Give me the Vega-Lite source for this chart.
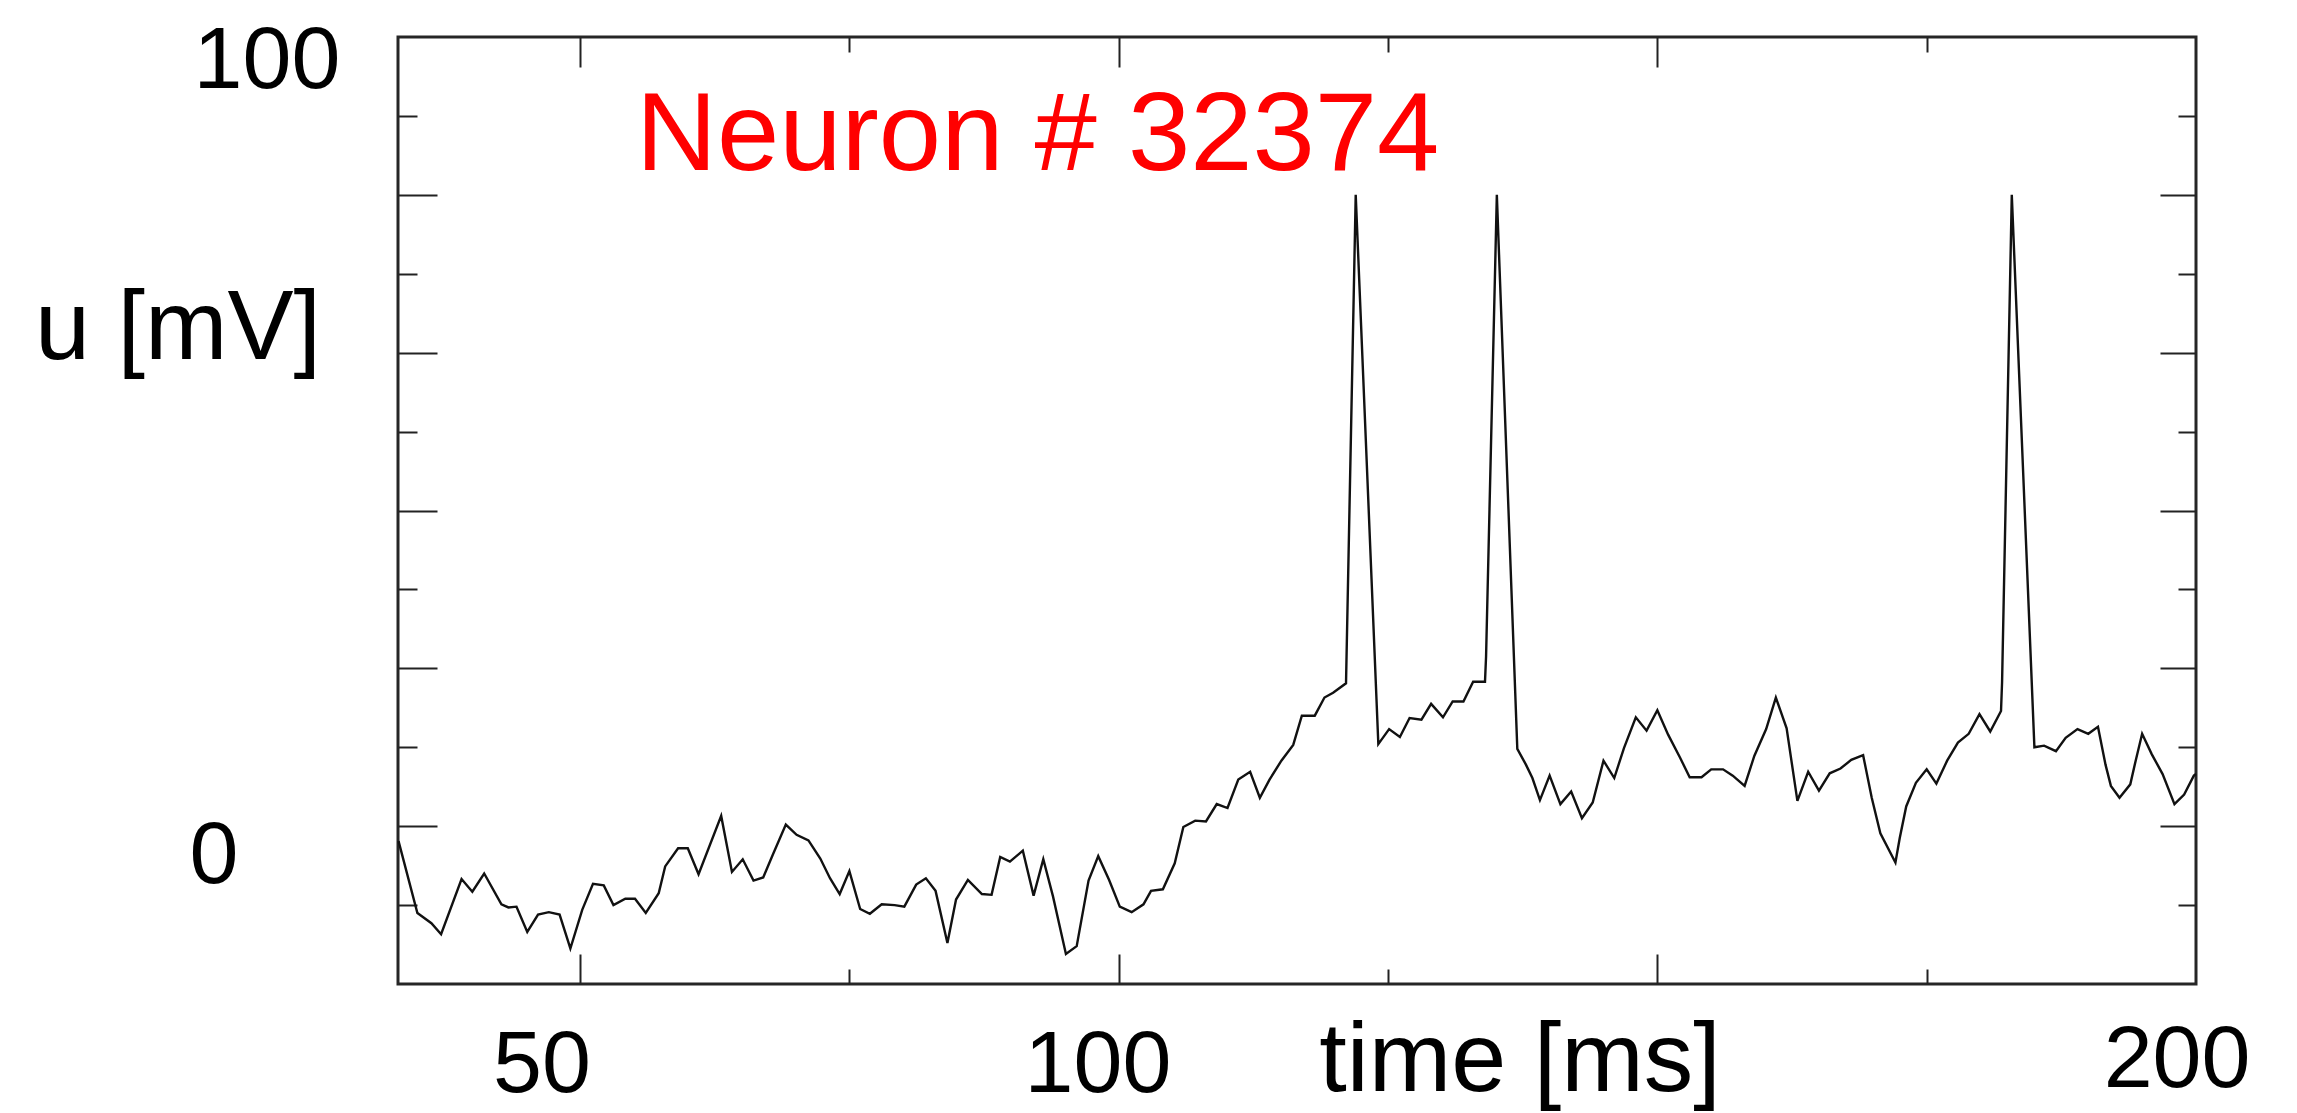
{
  "$schema": "https://vega.github.io/schema/vega-lite/v6.json",
  "autosize": "none",
  "width": 1798,
  "height": 947,
  "padding": {"left": 398, "top": 37, "right": 101, "bottom": 129},
  "background": "white",
  "datasets": {
    "trace": [
      {"t": 33.15, "u": -1.9}, {"t": 34.9, "u": -11.0}, {"t": 36.2, "u": -12.3}, {"t": 37.1, "u": -13.7},
      {"t": 39.0, "u": -6.7}, {"t": 40.0, "u": -8.3}, {"t": 41.1, "u": -6.0}, {"t": 42.7, "u": -9.9},
      {"t": 43.35, "u": -10.3}, {"t": 44.1, "u": -10.2}, {"t": 45.1, "u": -13.4}, {"t": 46.1, "u": -11.2},
      {"t": 47.1, "u": -10.9}, {"t": 48.1, "u": -11.2}, {"t": 49.1, "u": -15.5}, {"t": 50.2, "u": -10.6},
      {"t": 51.2, "u": -7.3}, {"t": 52.2, "u": -7.5}, {"t": 53.1, "u": -10.0}, {"t": 54.2, "u": -9.2},
      {"t": 55.1, "u": -9.2}, {"t": 56.1, "u": -11.0}, {"t": 57.3, "u": -8.5}, {"t": 57.9, "u": -5.1},
      {"t": 59.1, "u": -2.8}, {"t": 60.0, "u": -2.8}, {"t": 61.0, "u": -6.1}, {"t": 63.1, "u": 1.3},
      {"t": 64.1, "u": -5.8}, {"t": 65.1, "u": -4.2}, {"t": 66.1, "u": -6.9}, {"t": 67.0, "u": -6.5},
      {"t": 67.9, "u": -3.6}, {"t": 69.1, "u": 0.2}, {"t": 70.1, "u": -1.1}, {"t": 71.2, "u": -1.8},
      {"t": 72.3, "u": -4.1}, {"t": 73.2, "u": -6.6}, {"t": 74.1, "u": -8.6}, {"t": 75.0, "u": -5.7},
      {"t": 76.0, "u": -10.5}, {"t": 76.9, "u": -11.1}, {"t": 78.0, "u": -9.9}, {"t": 79.2, "u": -10.0},
      {"t": 80.1, "u": -10.2}, {"t": 81.2, "u": -7.4}, {"t": 82.1, "u": -6.6}, {"t": 83.0, "u": -8.2},
      {"t": 84.1, "u": -14.8}, {"t": 84.9, "u": -9.3}, {"t": 86.0, "u": -6.8}, {"t": 87.3, "u": -8.6},
      {"t": 88.2, "u": -8.7}, {"t": 89.0, "u": -3.9}, {"t": 89.9, "u": -4.5}, {"t": 91.1, "u": -3.1},
      {"t": 92.1, "u": -8.8}, {"t": 93.0, "u": -4.2}, {"t": 93.9, "u": -8.9}, {"t": 95.1, "u": -16.2},
      {"t": 96.1, "u": -15.2}, {"t": 97.2, "u": -6.9}, {"t": 98.1, "u": -3.8}, {"t": 99.1, "u": -6.8},
      {"t": 100.1, "u": -10.2}, {"t": 101.2, "u": -10.9}, {"t": 102.3, "u": -9.9}, {"t": 103.0, "u": -8.2},
      {"t": 104.1, "u": -8.0}, {"t": 105.2, "u": -4.7}, {"t": 106.0, "u": -0.1}, {"t": 107.1, "u": 0.7},
      {"t": 108.1, "u": 0.6}, {"t": 109.1, "u": 2.8}, {"t": 110.1, "u": 2.3}, {"t": 111.1, "u": 5.9},
      {"t": 112.2, "u": 6.9}, {"t": 113.1, "u": 3.6}, {"t": 114.0, "u": 5.9}, {"t": 115.1, "u": 8.3},
      {"t": 116.2, "u": 10.3}, {"t": 117.0, "u": 14.0}, {"t": 118.2, "u": 14.0}, {"t": 119.1, "u": 16.3},
      {"t": 119.9, "u": 16.9}, {"t": 121.1, "u": 18.1}, {"t": 122.0, "u": 80.0}, {"t": 124.1, "u": 10.4},
      {"t": 125.1, "u": 12.3}, {"t": 126.1, "u": 11.3}, {"t": 127.0, "u": 13.7}, {"t": 128.1, "u": 13.5},
      {"t": 129.0, "u": 15.5}, {"t": 130.1, "u": 13.8}, {"t": 131.0, "u": 15.8}, {"t": 132.0, "u": 15.8},
      {"t": 132.9, "u": 18.3}, {"t": 134.0, "u": 18.3}, {"t": 134.1, "u": 21.5}, {"t": 135.1, "u": 80.0},
      {"t": 137.0, "u": 9.8}, {"t": 137.8, "u": 7.8}, {"t": 138.4, "u": 6.1}, {"t": 139.1, "u": 3.3},
      {"t": 140.0, "u": 6.4}, {"t": 141.0, "u": 2.8}, {"t": 142.0, "u": 4.4}, {"t": 143.0, "u": 1.0},
      {"t": 144.0, "u": 3.0}, {"t": 145.0, "u": 8.3}, {"t": 146.0, "u": 6.1}, {"t": 146.9, "u": 9.9},
      {"t": 148.0, "u": 13.8}, {"t": 149.0, "u": 12.1}, {"t": 150.0, "u": 14.7}, {"t": 151.0, "u": 11.6},
      {"t": 152.1, "u": 8.7}, {"t": 153.0, "u": 6.2}, {"t": 154.1, "u": 6.2}, {"t": 155.0, "u": 7.2},
      {"t": 156.1, "u": 7.2}, {"t": 157.0, "u": 6.4}, {"t": 158.1, "u": 5.1}, {"t": 159.0, "u": 8.9},
      {"t": 160.1, "u": 12.3}, {"t": 161.0, "u": 16.3}, {"t": 162.0, "u": 12.4}, {"t": 163.0, "u": 3.2},
      {"t": 164.0, "u": 6.9}, {"t": 165.0, "u": 4.5}, {"t": 166.0, "u": 6.7}, {"t": 167.0, "u": 7.3},
      {"t": 168.0, "u": 8.4}, {"t": 169.1, "u": 9.0}, {"t": 169.9, "u": 3.6}, {"t": 170.7, "u": -0.9},
      {"t": 172.1, "u": -4.6}, {"t": 172.5, "u": -1.5}, {"t": 173.1, "u": 2.5}, {"t": 174.0, "u": 5.5},
      {"t": 175.0, "u": 7.2}, {"t": 175.9, "u": 5.4}, {"t": 176.9, "u": 8.3}, {"t": 177.9, "u": 10.6},
      {"t": 178.9, "u": 11.7}, {"t": 179.9, "u": 14.2}, {"t": 180.9, "u": 12.0}, {"t": 181.9, "u": 14.6},
      {"t": 182.0, "u": 18.3}, {"t": 182.9, "u": 80.0}, {"t": 185.0, "u": 10.0}, {"t": 185.9, "u": 10.2},
      {"t": 187.0, "u": 9.5}, {"t": 187.9, "u": 11.2}, {"t": 189.0, "u": 12.3}, {"t": 190.0, "u": 11.7},
      {"t": 190.9, "u": 12.6}, {"t": 191.6, "u": 7.8}, {"t": 192.1, "u": 5.1}, {"t": 192.9, "u": 3.6},
      {"t": 193.9, "u": 5.3}, {"t": 194.4, "u": 8.3}, {"t": 195.0, "u": 11.7}, {"t": 195.9, "u": 9.1},
      {"t": 196.9, "u": 6.6}, {"t": 198.0, "u": 2.8}, {"t": 198.9, "u": 4.0}, {"t": 199.8, "u": 6.4},
      {"t": 200.0, "u": 6.6}
    ],
    "labels": [
      {"kind": "tick", "text": "100", "t": 20.94, "u": 93.54},
      {"kind": "tick", "text": "0", "t": 16.02, "u": -7.21},
      {"kind": "tick", "text": "50", "t": 46.47, "u": -33.7},
      {"kind": "tick", "text": "100", "t": 98.08, "u": -33.7},
      {"kind": "tick", "text": "200", "t": 198.24, "u": -33.06},
      {"kind": "title", "text": "u [mV]", "t": 12.68, "u": 59.2},
      {"kind": "title", "text": "time [ms]", "t": 137.25, "u": -33.56},
      {"kind": "name", "text": "Neuron # 32374", "t": 55.2, "u": 83.15}
    ]
  },
  "layer": [
    {
      "data": {"name": "trace"},
      "mark": {"type": "line", "color": "#111111", "strokeWidth": 2.4, "interpolate": "linear"},
      "encoding": {
        "x": {"field": "t", "type": "quantitative", "scale": {"domain": [33.1, 200], "nice": false, "zero": false},
              "axis": {"orient": "bottom", "values": [50, 100, 150], "tickSize": -30, "labels": false, "domain": false, "grid": false, "title": null}},
        "y": {"field": "u", "type": "quantitative", "scale": {"domain": [-20, 100], "nice": false, "zero": false},
              "axis": {"orient": "left", "values": [0, 20, 40, 60, 80], "tickSize": -39, "labels": false, "domain": false, "grid": false, "title": null}}
      }
    },
    {
      "data": {"name": "trace"},
      "mark": {"type": "line", "strokeOpacity": 0},
      "encoding": {
        "x": {"field": "t", "type": "quantitative",
              "axis": {"orient": "bottom", "values": [75, 125, 175], "tickSize": -15, "labels": false, "domain": false, "grid": false, "title": null}},
        "y": {"field": "u", "type": "quantitative",
              "axis": {"orient": "left", "values": [-10, 10, 30, 50, 70, 90], "tickSize": -19, "labels": false, "domain": false, "grid": false, "title": null}}
      }
    },
    {
      "data": {"name": "trace"},
      "mark": {"type": "line", "strokeOpacity": 0},
      "encoding": {
        "x": {"field": "t", "type": "quantitative",
              "axis": {"orient": "top", "values": [50, 100, 150], "tickSize": -30, "labels": false, "domain": false, "grid": false, "title": null}},
        "y": {"field": "u", "type": "quantitative",
              "axis": {"orient": "right", "values": [0, 20, 40, 60, 80], "tickSize": -36, "labels": false, "domain": false, "grid": false, "title": null}}
      }
    },
    {
      "data": {"name": "trace"},
      "mark": {"type": "line", "strokeOpacity": 0},
      "encoding": {
        "x": {"field": "t", "type": "quantitative",
              "axis": {"orient": "top", "values": [75, 125, 175], "tickSize": -15, "labels": false, "domain": false, "grid": false, "title": null}},
        "y": {"field": "u", "type": "quantitative",
              "axis": {"orient": "right", "values": [-10, 10, 30, 50, 70, 90], "tickSize": -18, "labels": false, "domain": false, "grid": false, "title": null}}
      }
    },
    {
      "data": {"name": "labels"},
      "transform": [{"filter": "datum.kind == 'tick'"}],
      "mark": {"type": "text", "font": "Liberation Sans", "fontSize": 88, "align": "center", "baseline": "alphabetic", "color": "black"},
      "encoding": {
        "x": {"field": "t", "type": "quantitative", "axis": null},
        "y": {"field": "u", "type": "quantitative", "axis": null},
        "text": {"field": "text"}
      }
    },
    {
      "data": {"name": "labels"},
      "transform": [{"filter": "datum.kind == 'title'"}],
      "mark": {"type": "text", "font": "Liberation Sans", "fontSize": 99, "align": "center", "baseline": "alphabetic", "color": "black"},
      "encoding": {
        "x": {"field": "t", "type": "quantitative", "axis": null},
        "y": {"field": "u", "type": "quantitative", "axis": null},
        "text": {"field": "text"}
      }
    },
    {
      "data": {"name": "labels"},
      "transform": [{"filter": "datum.kind == 'name'"}],
      "mark": {"type": "text", "font": "Liberation Sans", "fontSize": 112, "align": "left", "baseline": "alphabetic", "color": "#ff0000"},
      "encoding": {
        "x": {"field": "t", "type": "quantitative", "axis": null},
        "y": {"field": "u", "type": "quantitative", "axis": null},
        "text": {"field": "text"}
      }
    }
  ],
  "resolve": {"axis": {"x": "independent", "y": "independent"}},
  "config": {
    "view": {"stroke": "#262626", "strokeWidth": 3},
    "axis": {"tickColor": "#222222", "tickWidth": 2}
  }
}
